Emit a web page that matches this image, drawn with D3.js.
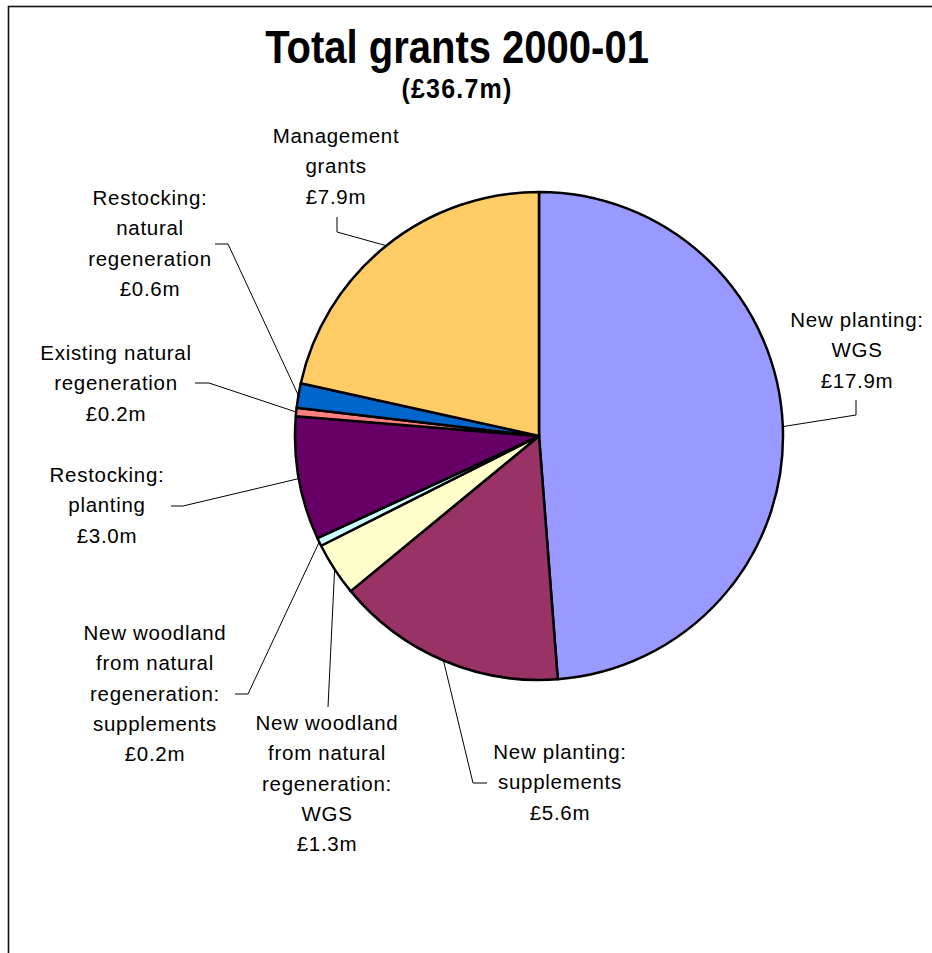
<!DOCTYPE html>
<html>
<head>
<meta charset="utf-8">
<script src="https://cdn.jsdelivr.net/npm/d3@7"></script>
<style>
  html, body { margin: 0; padding: 0; background: #fff; }
  svg { display: block; }
  text { font-family: "Liberation Sans", Arial, sans-serif; fill: #000; }
</style>
</head>
<body>
<svg id="chart" width="932" height="953"></svg>
<script>
// Grant categories, clockwise from 12 o'clock
const categories = [
  "New planting: WGS",
  "New planting: supplements",
  "New woodland from natural regeneration: WGS",
  "New woodland from natural regeneration: supplements",
  "Restocking: planting",
  "Existing natural regeneration",
  "Restocking: natural regeneration",
  "Management grants"
];
// Grant totals, £ million
const values = [17.9, 5.6, 1.3, 0.2, 3.0, 0.2, 0.6, 7.9];
// Label text lines (the value line is added from values)
const labelLines = [
  ["New planting:", "WGS"],
  ["New planting:", "supplements"],
  ["New woodland", "from natural", "regeneration:", "WGS"],
  ["New woodland", "from natural", "regeneration:", "supplements"],
  ["Restocking:", "planting"],
  ["Existing natural", "regeneration"],
  ["Restocking:", "natural", "regeneration"],
  ["Management", "grants"]
];
const sliceColors = ["#9999FF", "#993366", "#FFFFCC", "#CCFFFF", "#660066", "#FF8080", "#0066CC", "#FFCC66"];

const titleText = "Total grants 2000-01";
const totalValue = d3.sum(values);

// Label placement: text centre x, first baseline y, leader end near text and its elbow
const labelLayout = [
  { x: 857, y: 327, end: [856, 400], elbow: [856, 415] },
  { x: 560, y: 759, end: [487, 783], elbow: [473, 783] },
  { x: 327, y: 730, end: [328, 707], elbow: [328, 707] },
  { x: 155, y: 640, end: [235, 694], elbow: [248, 694] },
  { x: 107, y: 482, end: [171, 506], elbow: [183, 506] },
  { x: 116, y: 360, end: [195, 383], elbow: [209, 383] },
  { x: 150, y: 205, end: [215, 244], elbow: [228, 244] },
  { x: 336, y: 143, end: [337, 217], elbow: [337, 232] }
];

const svg = d3.select("#chart");
const fmt = v => "£" + d3.format(".1f")(v) + "m";

// Chart frame (open at right and bottom edges of the page)
svg.append("rect")
  .attr("x", 8.5).attr("y", 6.5)
  .attr("width", 940).attr("height", 960)
  .attr("fill", "none")
  .attr("stroke", "#111")
  .attr("stroke-width", 1.6);

// Titles (slightly tall lettering)
svg.append("text")
  .attr("transform", "translate(457,63) scale(1,1.15)")
  .attr("text-anchor", "middle")
  .attr("font-size", 40).attr("font-weight", "bold")
  .text(titleText);
svg.append("text")
  .attr("transform", "translate(457,98) scale(1,1.08)")
  .attr("text-anchor", "middle")
  .attr("font-size", 25).attr("font-weight", "bold")
  .attr("letter-spacing", 1.2)
  .text("(" + fmt(totalValue) + ")");

// Pie
const cx = 539, cy = 436, radius = 244;
const pie = d3.pie().sort(null).value(d => d)(values);
const arc = d3.arc().innerRadius(0).outerRadius(radius);

const g = svg.append("g").attr("transform", `translate(${cx},${cy})`);
g.selectAll("path.slice")
  .data(pie)
  .join("path")
  .attr("class", "slice")
  .attr("d", arc)
  .attr("fill", (d, i) => sliceColors[i])
  .attr("stroke", "#000")
  .attr("stroke-width", 2.5)
  .attr("stroke-linejoin", "round");

// Leader lines from the middle of each slice's rim
const rimPoint = d => {
  const a = (d.startAngle + d.endAngle) / 2;
  return [cx + radius * Math.sin(a), cy - radius * Math.cos(a)];
};
svg.append("g")
  .selectAll("path")
  .data(pie)
  .join("path")
  .attr("d", (d, i) => {
    const p = rimPoint(d), L = labelLayout[i];
    return d3.line()([p, L.elbow, L.end]);
  })
  .attr("fill", "none")
  .attr("stroke", "#000")
  .attr("stroke-width", 1);

// Data labels
const lineH = 30.3;
const labels = svg.append("g")
  .selectAll("text")
  .data(pie)
  .join("text")
  .attr("text-anchor", "middle")
  .attr("font-size", 20.5)
  .attr("letter-spacing", 0.7)
  .attr("x", (d, i) => labelLayout[i].x)
  .attr("y", (d, i) => labelLayout[i].y);
labels.each(function (d, i) {
  const lines = labelLines[i].concat([fmt(values[i])]);
  d3.select(this).selectAll("tspan")
    .data(lines)
    .join("tspan")
    .attr("x", labelLayout[i].x)
    .attr("dy", (t, j) => j === 0 ? 0 : lineH)
    .text(t => t);
});
</script>
</body>
</html>
